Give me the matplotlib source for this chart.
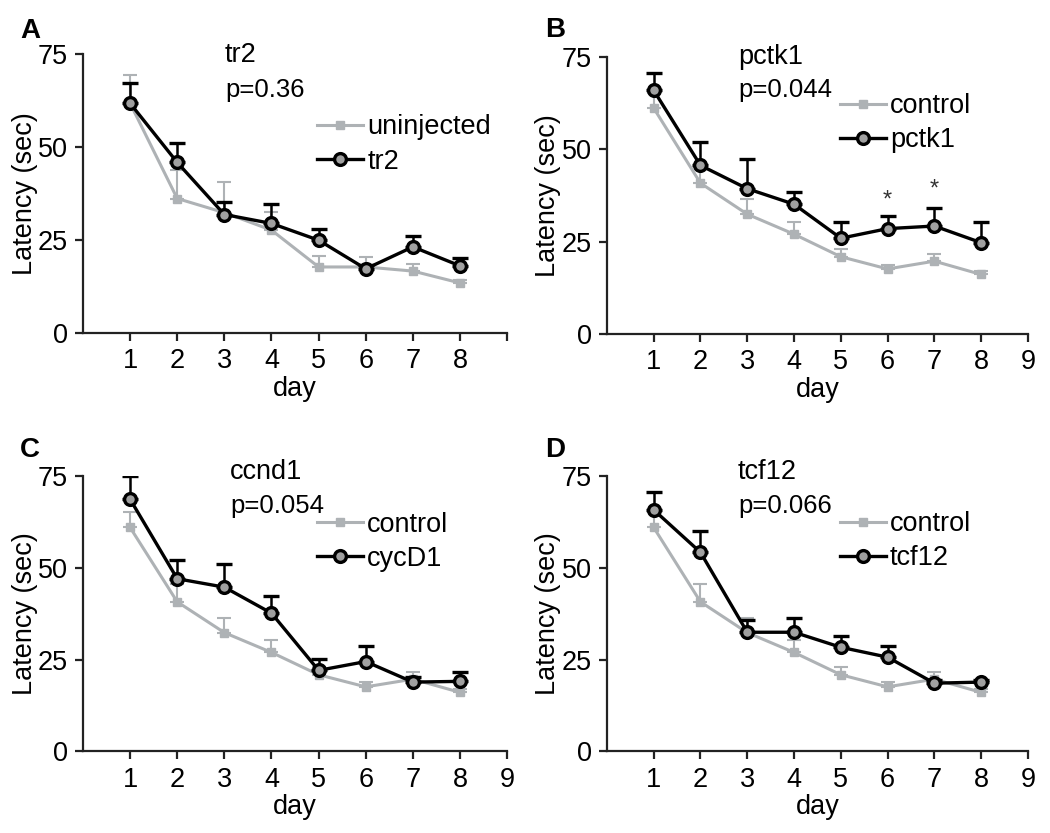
import numpy as np
import matplotlib.pyplot as plt
from matplotlib.lines import Line2D

plt.rcParams['font.family'] = ['Liberation Sans', 'DejaVu Sans']

days = [1, 2, 3, 4, 5, 6, 7, 8]

# panel A
uninj = [61.8, 36.2, 32.4, 27.7, 17.8, 17.8, 16.7, 13.5]
uninj_err = [7.7, 7.6, 8.3, 4.9, 2.9, 2.7, 2.0, 0.8]
tr2 = [61.8, 45.9, 31.9, 29.5, 25.0, 17.3, 23.2, 18.1]
tr2_err = [5.4, 5.3, 3.4, 5.2, 2.9, 1.0, 2.9, 2.2]

# shared control for B, C, D
ctrl = [61.1, 40.8, 32.4, 27.0, 20.9, 17.6, 19.7, 16.1]
ctrl_err = [4.2, 4.8, 4.0, 3.3, 2.1, 1.2, 2.0, 1.0]

pctk1 = [65.9, 45.6, 39.3, 35.1, 25.9, 28.5, 29.2, 24.7]
pctk1_err = [4.7, 6.3, 8.1, 3.3, 4.5, 3.3, 5.0, 5.6]
ccnd1 = [68.8, 47.1, 44.8, 37.7, 22.1, 24.5, 18.9, 19.1]
ccnd1_err = [6.4, 5.2, 6.3, 4.8, 3.1, 4.3, 1.5, 2.5]
tcf12 = [65.9, 54.3, 32.5, 32.5, 28.4, 25.7, 18.6, 18.9]
tcf12_err = [5.0, 5.7, 3.4, 3.9, 3.1, 3.1, 0.8, 0.7]

star_days = [6, 7]
star_y = [36.0, 39.0]

panels = [
    ("A", "tr2", "p=0.36", "uninjected", uninj, uninj_err, "tr2", tr2, tr2_err, False),
    ("B", "pctk1", "p=0.044", "control", ctrl, ctrl_err, "pctk1", pctk1, pctk1_err, True),
    ("C", "ccnd1", "p=0.054", "control", ctrl, ctrl_err, "cycD1", ccnd1, ccnd1_err, True),
    ("D", "tcf12", "p=0.066", "control", ctrl, ctrl_err, "tcf12", tcf12, tcf12_err, True),
]

# axes rectangles in figure fractions
rects = [
    [0.079, 0.600, 0.404, 0.335],
    [0.578, 0.599, 0.401, 0.333],
    [0.079, 0.098, 0.404, 0.330],
    [0.578, 0.098, 0.401, 0.330],
]
# text / legend positions in axes fraction
title_x = [0.335, 0.311, 0.347, 0.311]
title_y = [0.996, 1.0, 1.018, 1.018]
p_y = [0.871, 0.881, 0.891, 0.891]
leg_pos = [(0.552, 0.676), (0.553, 0.76), (0.552, 0.762), (0.553, 0.764)]
letter_pos = [(-0.148, 1.082), (-0.147, 1.097), (-0.148, 1.098), (-0.147, 1.098)]

grey = "#aeb2b5"
fs = 19.5

fig = plt.figure(figsize=(10.5, 8.33), dpi=100)

for i, (letter, gene, ptxt, c_lab, c, c_err, g_lab, g, g_err, lab9) in enumerate(panels):
    ax = fig.add_axes(rects[i])
    ax.errorbar(days, c, yerr=[np.zeros(len(c)), c_err], color=grey, lw=2.2,
                marker="s", ms=6, capsize=5, capthick=1.5, elinewidth=1.5,
                zorder=2)
    ax.errorbar(days, g, yerr=[np.zeros(len(g)), g_err], color="black", lw=2.4,
                marker="o", ms=8.5, mfc="#a0a0a0", mec="black", mew=2.4,
                capsize=5.5, capthick=1.8, elinewidth=1.8, zorder=3)
    if letter == "B":
        for d, y in zip(star_days, star_y):
            ax.text(d, y, "*", ha="center", va="center", fontsize=17, color="#333333")

    ax.set_xlim(0, 9)
    ax.set_ylim(0, 75)
    ax.set_xticks(range(1, 10))
    labs = [str(k) for k in range(1, 10)]
    if not lab9:
        labs[-1] = ""
    ax.set_xticklabels(labs)
    ax.set_yticks([0, 25, 50, 75])
    for s in ["top", "right"]:
        ax.spines[s].set_visible(False)
    for s in ["left", "bottom"]:
        ax.spines[s].set_linewidth(1.6)
        ax.spines[s].set_color("#222222")
    ax.tick_params(width=1.6, length=6, labelsize=fs, color="#222222", pad=5)
    ax.set_xlabel("day", fontsize=fs, labelpad=1)
    ax.set_ylabel("Latency (sec)", fontsize=fs, labelpad=0)

    ax.text(title_x[i], title_y[i], gene, transform=ax.transAxes,
            fontsize=fs, ha="left", va="center")
    ax.text(title_x[i], p_y[i], ptxt, transform=ax.transAxes,
            fontsize=fs - 1, ha="left", va="center")
    ax.text(letter_pos[i][0], letter_pos[i][1], letter, transform=ax.transAxes,
            fontsize=20, fontweight="bold", ha="left", va="center")

    handles = [
        Line2D([], [], color=grey, lw=2.2, marker="s", ms=6),
        Line2D([], [], color="black", lw=2.4, marker="o", ms=8.5,
               mfc="#a0a0a0", mec="black", mew=2.4),
    ]
    ax.legend(handles, [c_lab, g_lab], loc="center left",
              bbox_to_anchor=leg_pos[i], frameon=False, fontsize=fs,
              handlelength=1.7, handletextpad=0.15, labelspacing=0.3,
              borderaxespad=0, borderpad=0)

fig.savefig("out.png", dpi=100)
